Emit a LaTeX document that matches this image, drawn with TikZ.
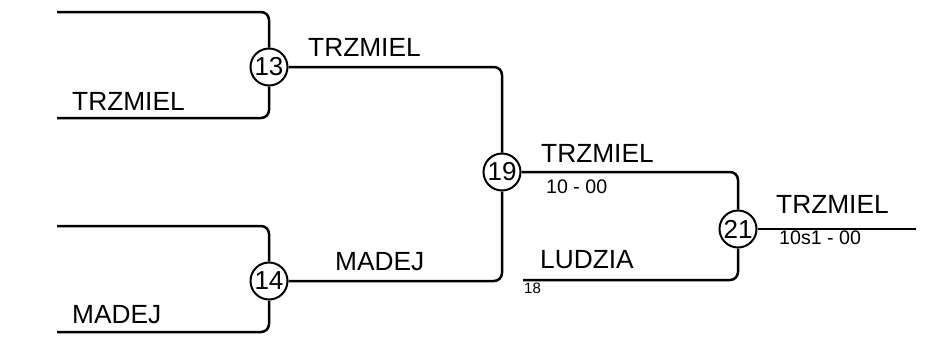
\documentclass[tikz,border=0pt]{standalone}
\usepackage{fontspec}
\setmainfont{Liberation Sans}
\begin{document}
\begin{tikzpicture}[x=1pt,y=-1pt,
  wire/.style={line width=2.5pt,rounded corners=8pt},
  seed/.style={circle,draw,line width=2pt,fill=white,minimum size=37pt,inner sep=0pt,font=\fontsize{26}{26}\selectfont},
  plname/.style={anchor=base west,inner sep=0pt,font=\fontsize{26.3}{28}\selectfont},
  plscore/.style={anchor=base west,inner sep=0pt,font=\fontsize{19.6}{21}\selectfont},
  plnote/.style={anchor=base west,inner sep=0pt,font=\fontsize{15}{16}\selectfont}]
\useasboundingbox (0,0) rectangle (938,338);
% coordinates
\coordinate (a1) at (57,12);
\coordinate (a2) at (57,118);
\coordinate (b1) at (57,226);
\coordinate (b2) at (57,332);
\coordinate (l1) at (523,280);
\coordinate (fin) at (916,229);
% circles
\node[seed] (c13) at (269,67) {13};
\node[seed] (c14) at (269,281) {14};
\node[seed] (c19) at (502,172) {19};
\node[seed] (c21) at (738,229) {21};
% wires
\draw[wire] (a1) -| (c13);
\draw[wire] (a2) -| (c13);
\draw[wire] (b1) -| (c14);
\draw[wire] (b2) -| (c14);
\draw[wire] (c13) -| (c19);
\draw[wire] (c14.east) -| (c19);
\draw[wire] (c19) -| (c21);
\draw[wire] (l1) -| (c21);
\draw[wire] (c21) -- (fin);
% labels
\node[plname] (n1) at (72,110) {TRZMIEL};
\node[plname] (n2) at (72,323) {MADEJ};
\node[plname] (n3) at (308,56) {TRZMIEL};
\node[plname] (n4) at (335,270) {MADEJ};
\node[plname] (n5) at (541,162) {TRZMIEL};
\node[plscore] (s5) at (546,193) {10 - 00};
\node[plname] (n6) at (540,268) {LUDZIA};
\node[plnote] (t6) at (524,293) {18};
\node[plname] (n7) at (776,213) {TRZMIEL};
\node[plscore] (s7) at (779,244) {10s1 - 00};
\end{tikzpicture}
\end{document}
